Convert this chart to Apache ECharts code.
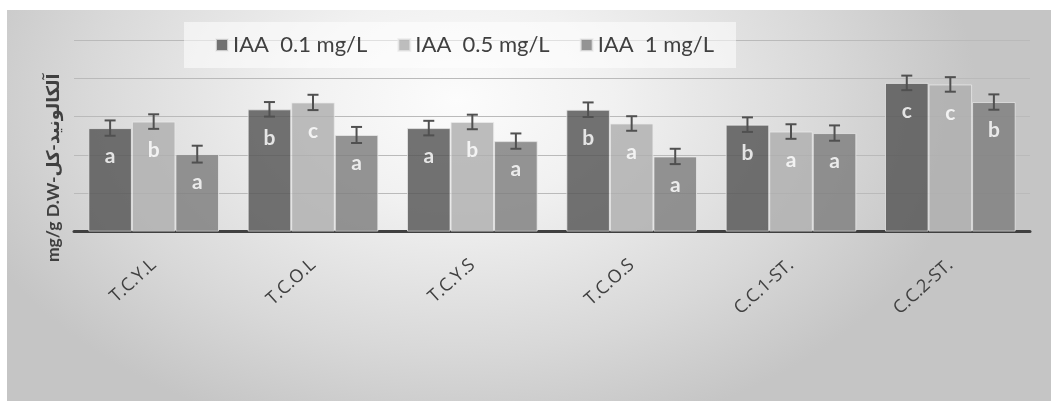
<!DOCTYPE html>
<html>
<head>
<meta charset="utf-8">
<script src="https://cdn.jsdelivr.net/npm/echarts@6/dist/echarts.min.js"></script>
<style>
  html, body { margin: 0; padding: 0; background: #ffffff; }
  #wrap { position: relative; width: 1051px; height: 401px; overflow: hidden; }
  #panel {
    position: absolute; left: 7px; top: 10px; width: 1044px; height: 391px;
    background: radial-gradient(ellipse 520px 350px at 450px 90px, #fcfcfc 0%, #f1f1f1 30%, #d8d8d8 72%, #c5c5c5 100%);
  }
  #chart { position: absolute; left: 0; top: 0; width: 1051px; height: 401px; }
</style>
</head>
<body>
<div id="wrap">
  <div id="panel"></div>
  <div id="chart"></div>
</div>
<script>
// Sample groups along the x axis
const categories = ['T.C.Y.L', 'T.C.O.L', 'T.C.Y.S', 'T.C.O.S', 'C.C.1-ST.', 'C.C.2-ST.'];

// Series names (IAA concentration)
const seriesNames = ['IAA  0.1 mg/L', 'IAA  0.5 mg/L', 'IAA  1 mg/L'];

// Total alkaloid content per group, one array per IAA concentration
const iaa01 = [2.70, 3.19, 2.70, 3.18, 2.79, 3.88];
const iaa05 = [2.87, 3.37, 2.86, 2.82, 2.61, 3.84];
const iaa1  = [2.02, 2.52, 2.36, 1.96, 2.57, 3.38];

// Standard error for each bar
const err01 = [0.20, 0.19, 0.19, 0.19, 0.19, 0.19];
const err05 = [0.19, 0.20, 0.19, 0.19, 0.19, 0.19];
const err1  = [0.22, 0.21, 0.20, 0.20, 0.20, 0.20];

// Significance letters shown on each bar
const sig01 = ['a', 'b', 'a', 'b', 'b', 'c'];
const sig05 = ['b', 'c', 'b', 'a', 'a', 'c'];
const sig1  = ['a', 'a', 'a', 'a', 'a', 'b'];

const values = [iaa01, iaa05, iaa1];
const errors = [err01, err05, err1];
const letters = [sig01, sig05, sig1];
const colors = ['#545454', '#afafaf', '#7e7e7e'];

const FONT = 'Lato, "Open Sans", "DejaVu Sans", sans-serif';
const CAT_GAP = 0.18;

const chart = echarts.init(document.getElementById('chart'), null, { renderer: 'canvas' });

const barSeries = values.map((vals, s) => ({
  name: seriesNames[s],
  type: 'bar',
  data: vals,
  barGap: '0%',
  barCategoryGap: (CAT_GAP * 100) + '%',
  itemStyle: {
    color: colors[s],
    opacity: 0.82,
    borderColor: 'rgba(235,235,235,0.9)',
    borderWidth: 1
  },
  label: {
    show: true,
    position: 'insideTop',
    distance: 18,
    color: '#ffffff',
    fontFamily: FONT,
    fontWeight: 'bold',
    fontSize: 21,
    formatter: p => letters[s][p.dataIndex]
  },
  z: 2
}));

// Error bars drawn as I-beams centred on each bar
const errorSeries = values.map((vals, s) => ({
  type: 'custom',
  name: seriesNames[s],
  data: vals.map((v, i) => [i, v - errors[s][i], v + errors[s][i]]),
  z: 5,
  silent: true,
  renderItem: (params, api) => {
    const band = api.size([1, 0])[0];
    const barW = band * (1 - CAT_GAP) / 3;
    const offset = (s - 1) * barW;
    const lo = api.coord([api.value(0), api.value(1)]);
    const hi = api.coord([api.value(0), api.value(2)]);
    const x = lo[0] + offset;
    const half = 5.5;
    const style = { stroke: '#505050', lineWidth: 2 };
    return {
      type: 'group',
      children: [
        { type: 'line', shape: { x1: x, y1: hi[1], x2: x, y2: lo[1] }, style },
        { type: 'line', shape: { x1: x - half, y1: hi[1], x2: x + half, y2: hi[1] }, style },
        { type: 'line', shape: { x1: x - half, y1: lo[1], x2: x + half, y2: lo[1] }, style }
      ]
    };
  }
}));

chart.setOption({
  animation: false,
  backgroundColor: 'transparent',
  textStyle: { fontFamily: FONT },
  legend: {
    data: seriesNames,
    left: 184,
    top: 22,
    padding: [12, 22, 12, 31],
    backgroundColor: 'rgba(255,255,255,0.55)',
    icon: 'rect',
    itemWidth: 12,
    itemHeight: 12,
    itemGap: 30,
    textStyle: { fontFamily: FONT, fontSize: 22, color: '#404040' }
  },
  grid: { left: 74, right: 21, top: 40, bottom: 169.5, containLabel: false },
  xAxis: {
    type: 'category',
    data: categories,
    axisLine: { show: true, lineStyle: { color: '#404040', width: 3 } },
    axisTick: { show: false },
    axisLabel: {
      rotate: 42,
      margin: 31,
      color: '#404040',
      fontFamily: '"Open Sans", Lato, sans-serif',
      fontSize: 18
    }
  },
  yAxis: {
    type: 'value',
    min: 0,
    max: 5,
    interval: 1,
    name: 'mg/g D.W-آلكالونيد-كل',
    nameLocation: 'middle',
    nameRotate: 90,
    nameGap: 12,
    nameTextStyle: {
      fontFamily: FONT, fontWeight: 'bold', fontSize: 17.5, color: '#404040',
      padding: [0, 64, 0, 0]
    },
    axisLine: { show: false },
    axisTick: { show: false },
    axisLabel: { show: false },
    splitLine: { lineStyle: { color: '#bababa', width: 1 } }
  },
  series: [...barSeries, ...errorSeries]
});
</script>
</body>
</html>
